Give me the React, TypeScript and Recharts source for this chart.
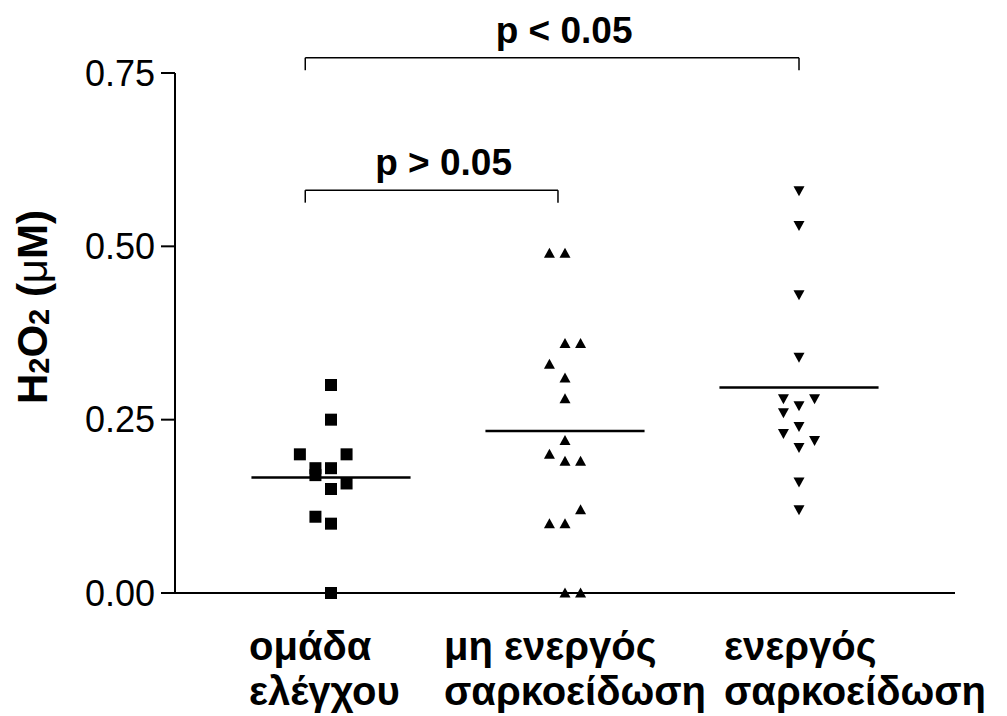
import { ScatterChart, Scatter, XAxis, YAxis, ReferenceLine } from 'recharts';

const FONT = '"Liberation Sans", Arial, sans-serif';

// column positions on the numeric x axis, and the label lines under each column
const GROUP_X = [1, 2, 3];
const GROUP_LABELS = [
  ['ομάδα', 'ελέγχου'],
  ['μη ενεργός', 'σαρκοείδωση'],
  ['ενεργός', 'σαρκοείδωση'],
];
const Y_TICKS = [0, 0.25, 0.5, 0.75];

// H2O2 (μM) per subject; slot = sideways jitter column used by the plot
const controlValues = [0.3, 0.25, 0.2, 0.2, 0.18, 0.17, 0.18, 0.158, 0.15, 0.11, 0.1, 0];
const controlSlots = [0, 0, -2, 1, -1, -1, 0, 1, 0, -1, 0, 0];
const inactiveValues = [0.49, 0.49, 0.36, 0.36, 0.33, 0.31, 0.28, 0.22, 0.2, 0.19, 0.19, 0.12, 0.1, 0.1, 0, 0];
const inactiveSlots = [-1, 0, 0, 1, -1, 0, 0, 0, -1, 0, 1, 1, -1, 0, 0, 1];
const activeValues = [0.58, 0.53, 0.43, 0.34, 0.28, 0.28, 0.27, 0.26, 0.24, 0.23, 0.22, 0.21, 0.16, 0.12];
const activeSlots = [0, 0, 0, 0, -1, 1, 0, -1, 0, -1, 1, 0, 0, 0];

// significance brackets: from column, to column, bracket height, text
const BRACKETS = [
  { from: 0.89, to: 1.97, y: 0.581, text: 'p > 0.05' },
  { from: 0.89, to: 3.0, y: 0.772, text: 'p < 0.05' },
];

const JITTER = 0.0665;
const MEAN_HALF = 0.34;

const toPoints = (g: number, values: number[], slots: number[]) =>
  values.map((v, i) => ({ x: GROUP_X[g] + slots[i] * JITTER, y: v }));
const mean = (a: number[]) => a.reduce((s, v) => s + v, 0) / a.length;

const series = [
  { name: 'control', data: toPoints(0, controlValues, controlSlots), mean: mean(controlValues), shape: 'square' },
  { name: 'inactive', data: toPoints(1, inactiveValues, inactiveSlots), mean: mean(inactiveValues), shape: 'up' },
  { name: 'active', data: toPoints(2, activeValues, activeSlots), mean: mean(activeValues), shape: 'down' },
];

function Marker({ cx, cy, kind }: { cx?: number; cy?: number; kind: string }) {
  if (cx == null || cy == null) return null;
  if (kind === 'square') return <rect x={cx - 6} y={cy - 6} width={12} height={12} fill="#000" />;
  if (kind === 'up') return <path d={`M${cx},${cy - 5.5}L${cx + 5.5},${cy + 4.5}L${cx - 5.5},${cy + 4.5}Z`} fill="#000" />;
  return <path d={`M${cx},${cy + 5.5}L${cx + 5.5},${cy - 4.5}L${cx - 5.5},${cy - 4.5}Z`} fill="#000" />;
}

const LABEL_DX = [-82, -121, -75];

function CategoryTick(props: any) {
  const { x, payload } = props;
  const i = GROUP_X.indexOf(payload.value);
  if (i < 0) return null;
  const lines = GROUP_LABELS[i];
  return (
    <g>
      {lines.map((l, k) => (
        <text key={k} x={x + LABEL_DX[i]} y={660 + k * 45} textAnchor="start" fontFamily={FONT} fontWeight="bold" fontSize={40} fill="#000">
          {l}
        </text>
      ))}
    </g>
  );
}

function YTitle() {
  return (
    <text x={32} y={307} transform="rotate(-90 32 307)" textAnchor="middle" dominantBaseline="central" fontFamily={FONT} fontWeight="bold" fontSize={42} fill="#000">
      H<tspan fontSize={29} dy={7}>2</tspan>
      <tspan dy={-7}>O</tspan>
      <tspan fontSize={29} dy={7}>2</tspan>
      <tspan dy={-7}> (</tspan>
      <tspan fontWeight="normal">μ</tspan>M)
    </text>
  );
}

function BracketText({ viewBox, text }: any) {
  if (!viewBox) return null;
  const cx = viewBox.x + viewBox.width / 2 + 12;
  return (
    <text x={cx} y={viewBox.y - 15} textAnchor="middle" fontFamily={FONT} fontWeight="bold" fontSize={37} fill="#000">
      {text}
    </text>
  );
}

export default function App() {
  return (
    <div style={{ position: 'absolute', left: 0, top: 0, background: '#fff' }}>
      <ScatterChart width={1007} height={716} margin={{ top: 73, right: 52, bottom: 23, left: 0 }}>
        <XAxis
          type="number"
          dataKey="x"
          domain={[1 / 3, 11 / 3]}
          ticks={GROUP_X}
          tick={<CategoryTick />}
          tickLine={false}
          axisLine={{ stroke: '#000', strokeWidth: 2 }}
          height={100}
          allowDataOverflow
        />
        <YAxis
          type="number"
          dataKey="y"
          domain={[0, 0.75]}
          ticks={Y_TICKS}
          tickFormatter={(v: number) => v.toFixed(2)}
          tick={{ fill: '#000', fontSize: 36, fontFamily: FONT, dx: -4 }}
          tickSize={14}
          tickLine={{ stroke: '#000', strokeWidth: 2 }}
          axisLine={{ stroke: '#000', strokeWidth: 2 }}
          width={175}
          label={<YTitle />}
        />
        {series.map((s) => (
          <Scatter
            key={s.name}
            data={s.data}
            isAnimationActive={false}
            shape={(p: any) => <Marker cx={p.cx} cy={p.cy} kind={s.shape} />}
          />
        ))}
        {series.map((s, i) => (
          <ReferenceLine
            key={'m' + s.name}
            segment={[
              { x: GROUP_X[i] - MEAN_HALF, y: s.mean },
              { x: GROUP_X[i] + MEAN_HALF, y: s.mean },
            ]}
            stroke="#000"
            strokeWidth={2.5}
          />
        ))}
        {BRACKETS.map((b) => [
          <ReferenceLine
            key={b.text + 'h'}
            segment={[{ x: b.from, y: b.y }, { x: b.to, y: b.y }]}
            stroke="#000"
            strokeWidth={1.5}
            ifOverflow="visible"
            label={<BracketText text={b.text} />}
          />,
          <ReferenceLine
            key={b.text + 'l'}
            segment={[{ x: b.from, y: b.y }, { x: b.from, y: b.y - 0.018 }]}
            stroke="#000"
            strokeWidth={1.5}
            ifOverflow="visible"
          />,
          <ReferenceLine
            key={b.text + 'r'}
            segment={[{ x: b.to, y: b.y }, { x: b.to, y: b.y - 0.018 }]}
            stroke="#000"
            strokeWidth={1.5}
            ifOverflow="visible"
          />,
        ])}
      </ScatterChart>
    </div>
  );
}
